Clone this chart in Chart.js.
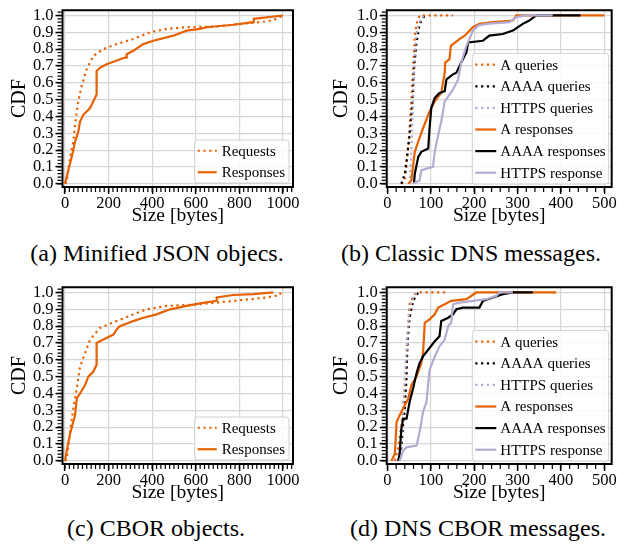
<!DOCTYPE html>
<html>
<head>
<meta charset="utf-8">
<script src="https://cdn.jsdelivr.net/npm/chart.js@4.4.1/dist/chart.umd.min.js"></script>
<style>
  body { margin: 0; background: #fff; }
  #fig { position: relative; width: 633px; height: 548px; overflow: hidden; }
  canvas { position: absolute; }
  .cap {
    position: absolute;
    font-family: 'Liberation Serif', 'DejaVu Serif', serif;
    font-size: 24px;
    white-space: nowrap;
    transform: translate(-50%, -50%);
  }
</style>
</head>
<body>
<div id="fig">
  <canvas id="chartA" width="316" height="232" style="left:0;top:0"></canvas>
  <canvas id="chartB" width="313" height="232" style="left:320px;top:0"></canvas>
  <canvas id="chartC" width="316" height="232" style="left:0;top:277px"></canvas>
  <canvas id="chartD" width="313" height="232" style="left:320px;top:277px"></canvas>
  <div class="cap" style="left:157px;top:253px">(a) Minified JSON objecs.</div>
  <div class="cap" style="left:471px;top:253px">(b) Classic DNS messages.</div>
  <div class="cap" style="left:156px;top:528px">(c) CBOR objects.</div>
  <div class="cap" style="left:478px;top:528px">(d) DNS CBOR messages.</div>
</div>
<script>
// (a) minified JSON
const jsonReqX = [0, 8, 23, 38, 46, 61, 76, 99, 130, 176, 237, 313, 390, 466, 558, 696, 772, 849, 925, 960, 1000];
const jsonReqY = [0, 0.01, 0.16, 0.25, 0.35, 0.49, 0.58, 0.68, 0.76, 0.80, 0.83, 0.86, 0.90, 0.92, 0.93, 0.935, 0.945, 0.955, 0.965, 0.975, 1.0];
const jsonResX = [0, 15, 31, 46, 61, 69, 84, 115, 130, 145, 145, 161, 191, 275, 283, 283, 313, 359, 405, 497, 558, 619, 650, 772, 864, 866, 1000];
const jsonResY = [0, 0.08, 0.16, 0.25, 0.31, 0.37, 0.41, 0.45, 0.49, 0.53, 0.67, 0.69, 0.71, 0.75, 0.75, 0.77, 0.79, 0.83, 0.85, 0.88, 0.91, 0.92, 0.93, 0.945, 0.96, 0.98, 1.0];

// (c) CBOR objects
const cborReqX = [0, 8, 23, 38, 54, 69, 92, 115, 161, 237, 313, 375, 466, 619, 772, 925, 986, 990];
const cborReqY = [0, 0.01, 0.17, 0.31, 0.43, 0.56, 0.64, 0.72, 0.79, 0.83, 0.87, 0.90, 0.92, 0.93, 0.95, 0.97, 0.985, 1.0];
const cborResX = [0, 8, 23, 46, 54, 69, 92, 107, 130, 145, 145, 176, 222, 237, 252, 313, 359, 420, 482, 558, 619, 696, 696, 772, 864, 956];
const cborResY = [0, 0.06, 0.16, 0.27, 0.37, 0.40, 0.45, 0.50, 0.53, 0.57, 0.70, 0.72, 0.75, 0.78, 0.80, 0.83, 0.85, 0.87, 0.90, 0.92, 0.935, 0.95, 0.97, 0.985, 0.99, 1.0];

// (b) classic DNS
const dnsAQryX = [32, 40, 45, 50, 55, 59, 63, 67, 74, 151];
const dnsAQryY = [0, 0.02, 0.14, 0.29, 0.49, 0.68, 0.88, 0.95, 1.0, 1.0];
const dnsAAAAQryX = [32, 40, 45, 51, 58, 61, 67, 74, 86];
const dnsAAAAQryY = [0, 0.06, 0.16, 0.29, 0.49, 0.68, 0.84, 0.95, 1.0];
const dnsHttpsQryX = [51, 55, 59, 63, 68, 78, 90];
const dnsHttpsQryY = [0, 0.19, 0.49, 0.78, 0.91, 0.99, 1.0];
const dnsARespX = [48, 55, 63, 71, 82, 97, 109, 124, 132, 133, 143, 146, 166, 178, 182, 197, 212, 243, 289, 297, 500];
const dnsARespY = [0, 0.02, 0.19, 0.25, 0.33, 0.43, 0.49, 0.54, 0.66, 0.72, 0.74, 0.82, 0.86, 0.88, 0.89, 0.93, 0.95, 0.96, 0.97, 1.0, 1.0];
const dnsAAAARespX = [61, 63, 71, 78, 94, 97, 101, 109, 120, 132, 136, 151, 159, 170, 182, 186, 220, 235, 266, 289, 312, 327, 343, 445];
const dnsAAAARespY = [0, 0.06, 0.16, 0.19, 0.21, 0.33, 0.45, 0.51, 0.54, 0.55, 0.62, 0.65, 0.66, 0.72, 0.78, 0.84, 0.85, 0.88, 0.89, 0.91, 0.95, 0.97, 1.0, 1.0];
const dnsHttpsRespX = [59, 74, 78, 90, 105, 109, 117, 124, 132, 143, 151, 163, 170, 182, 189, 197, 209, 228, 281, 297, 320, 381];
const dnsHttpsRespY = [0, 0.02, 0.08, 0.09, 0.10, 0.19, 0.29, 0.37, 0.49, 0.53, 0.56, 0.62, 0.72, 0.82, 0.86, 0.91, 0.94, 0.95, 0.96, 0.99, 1.0, 1.0];

// (d) DNS CBOR
const cbAQryX = [17, 25, 32, 40, 44, 48, 51, 63, 74, 136];
const cbAQryY = [0, 0.08, 0.21, 0.41, 0.60, 0.80, 0.93, 0.99, 1.0, 1.0];
const cbAAAAQryX = [25, 32, 36, 40, 44, 46, 51, 59, 71];
const cbAAAAQryY = [0, 0.08, 0.21, 0.31, 0.50, 0.70, 0.85, 0.95, 1.0];
const cbHttpsQryX = [28, 32, 36, 40, 45, 50, 59, 67];
const cbHttpsQryY = [0, 0.16, 0.31, 0.50, 0.70, 0.89, 0.98, 1.0];
const cbARespX = [9, 17, 21, 28, 36, 48, 55, 67, 78, 82, 86, 97, 109, 117, 132, 147, 182, 205, 389];
const cbARespY = [0, 0.04, 0.23, 0.27, 0.31, 0.37, 0.45, 0.50, 0.58, 0.64, 0.82, 0.84, 0.87, 0.91, 0.93, 0.95, 0.96, 1.0, 1.0];
const cbAAAARespX = [25, 28, 32, 36, 44, 51, 59, 67, 74, 82, 97, 109, 120, 124, 140, 151, 159, 174, 212, 220, 243, 266, 289, 335];
const cbAAAARespY = [0, 0.04, 0.19, 0.25, 0.25, 0.35, 0.43, 0.52, 0.58, 0.62, 0.67, 0.71, 0.74, 0.83, 0.85, 0.87, 0.90, 0.91, 0.91, 0.95, 0.97, 0.99, 1.0, 1.0];
const cbHttpsRespX = [28, 36, 44, 67, 74, 82, 90, 97, 109, 120, 132, 140, 147, 151, 166, 197, 228, 251, 259, 289];
const cbHttpsRespY = [0, 0.06, 0.08, 0.09, 0.17, 0.29, 0.35, 0.54, 0.62, 0.68, 0.72, 0.80, 0.82, 0.93, 0.94, 0.95, 0.96, 0.98, 1.0, 1.0];

const FONT = "'Liberation Serif', 'DejaVu Serif', serif";
const ORANGE = "#e66101";
const BLACK = "#000000";
const LAVENDER = "#b2abd2";
const DOTS = [2.2, 3.6];

Chart.defaults.font.family = FONT;
Chart.defaults.color = "#000";

const pts = (xs, ys) => xs.map((x, i) => ({ x: x, y: ys[i] }));

// frame round the plot area, like matplotlib spines
const framePlugin = {
  id: "frame",
  afterDatasetsDraw(chart) {
    const a = chart.chartArea;
    const ctx = chart.ctx;
    ctx.save();
    ctx.strokeStyle = "#000";
    ctx.lineWidth = 2;
    ctx.strokeRect(a.left, a.top, a.right - a.left, a.bottom - a.top);
    ctx.restore();
  }
};

// minor ticks, outward
const minorPlugin = {
  id: "minorTicks",
  afterDraw(chart, args, opts) {
    const a = chart.chartArea;
    const ctx = chart.ctx;
    const sx = chart.scales.x, sy = chart.scales.y;
    ctx.save();
    ctx.strokeStyle = "#000";
    ctx.lineWidth = 1.2;
    ctx.beginPath();
    for (let i = Math.ceil(sx.min / opts.x); i * opts.x <= sx.max; i++) {
      const px = sx.getPixelForValue(i * opts.x);
      ctx.moveTo(px, a.bottom + 1);
      ctx.lineTo(px, a.bottom + 1 + opts.len);
    }
    for (let i = Math.ceil(sy.min / opts.y - 1e-6); i * opts.y <= sy.max + 1e-9; i++) {
      const py = sy.getPixelForValue(i * opts.y);
      ctx.moveTo(a.left - 1, py);
      ctx.lineTo(a.left - 1 - opts.len, py);
    }
    ctx.stroke();
    ctx.restore();
  }
};

// legend box inside the lower right corner
const legendPlugin = {
  id: "cdfLegend",
  afterDraw(chart, args, opts) {
    const ctx = chart.ctx;
    const a = chart.chartArea;
    const items = chart.data.datasets;
    ctx.save();
    ctx.font = opts.size + "px " + FONT;
    const textW = Math.max(...items.map(d => ctx.measureText(d.label).width));
    const w = opts.padL + opts.sample + opts.gap + textW + opts.padR;
    const h = items.length * opts.row + opts.padV * 2;
    const x = a.right - opts.inset - w;
    const y = a.bottom - opts.inset - h;
    ctx.beginPath();
    ctx.roundRect(x, y, w, h, 3);
    ctx.fillStyle = "rgba(255,255,255,0.85)";
    ctx.fill();
    ctx.strokeStyle = "#d0d0d0";
    ctx.lineWidth = 1;
    ctx.stroke();
    items.forEach((d, i) => {
      const cy = y + opts.padV + opts.row * (i + 0.5);
      ctx.beginPath();
      ctx.setLineDash(d.borderDash || []);
      ctx.strokeStyle = d.borderColor;
      ctx.lineWidth = d.borderWidth;
      ctx.moveTo(x + opts.padL, cy);
      ctx.lineTo(x + opts.padL + opts.sample, cy);
      ctx.stroke();
      ctx.setLineDash([]);
      ctx.fillStyle = "#000";
      ctx.textBaseline = "middle";
      ctx.fillText(d.label, x + opts.padL + opts.sample + opts.gap, cy + 1);
    });
    ctx.restore();
  }
};

function series(label, xs, ys, color, dotted) {
  return {
    label: label,
    data: pts(xs, ys),
    borderColor: color,
    backgroundColor: color,
    borderWidth: 2.2,
    borderDash: dotted ? DOTS : [],
    pointRadius: 0,
    tension: 0,
    fill: false
  };
}

function makePanel(id, cfg) {
  const canvas = document.getElementById(id);
  const W = canvas.width, H = canvas.height;
  const n = cfg.datasets.length;
  // later series drawn on top, like matplotlib
  cfg.datasets.forEach((d, i) => { d.order = n - i; });
  return new Chart(canvas, {
    type: "line",
    data: { datasets: cfg.datasets },
    options: {
      responsive: false,
      animation: false,
      events: [],
      layout: { padding: { top: 8, right: W - cfg.right, bottom: 0, left: 0 } },
      plugins: {
        legend: { display: false },
        tooltip: { enabled: false },
        minorTicks: { x: 20, y: 0.02, len: 4 },
        cdfLegend: cfg.legend
      },
      scales: {
        x: {
          type: "linear",
          min: cfg.xMin,
          max: cfg.xMax,
          afterFit: s => { s.height = H - 187; },
          ticks: {
            stepSize: cfg.xStep,
            includeBounds: false,
            autoSkip: false,
            maxRotation: 0,
            padding: 1,
            color: "#000",
            font: { size: 16.5, lineHeight: 1 },
            callback: v => String(v)
          },
          grid: { color: "#d6d6d6", lineWidth: 1.2, tickColor: "#000", tickWidth: 1.5, tickLength: 7 },
          border: { display: false },
          title: { display: true, text: "Size [bytes]", color: "#000", font: { size: 19.5 }, padding: { top: 0, bottom: 4 } }
        },
        y: {
          type: "linear",
          min: -0.019,
          max: 1.031,
          afterFit: s => { s.width = cfg.left; },
          ticks: {
            stepSize: 0.1,
            includeBounds: false,
            autoSkip: false,
            padding: 2,
            color: "#000",
            font: { size: 16.5, lineHeight: 1 },
            callback: v => v.toFixed(1)
          },
          grid: { color: "#d6d6d6", lineWidth: 1.2, tickColor: "#000", tickWidth: 1.5, tickLength: 7 },
          border: { display: false },
          title: { display: true, text: "CDF", color: "#000", font: { size: 20 }, padding: { top: cfg.titlePad, bottom: 0 } }
        }
      }
    },
    plugins: [framePlugin, minorPlugin, legendPlugin]
  });
}

const smallLegend = { size: 15, row: 21.5, padV: 0, padL: 3, sample: 19, gap: 5, padR: 4, inset: 4 };
const bigLegend = { size: 15, row: 21.6, padV: 0.5, padL: 3, sample: 21, gap: 4, padR: 3, inset: 3 };

makePanel("chartA", {
  left: 62.5, right: 293, xMin: -11.5, xMax: 1046, xStep: 200, titlePad: 8, legend: smallLegend,
  datasets: [
    series("Requests", jsonReqX, jsonReqY, ORANGE, true),
    series("Responses", jsonResX, jsonResY, ORANGE, false)
  ]
});

makePanel("chartC", {
  left: 62.5, right: 293, xMin: -11.5, xMax: 1046, xStep: 200, titlePad: 8, legend: smallLegend,
  datasets: [
    series("Requests", cborReqX, cborReqY, ORANGE, true),
    series("Responses", cborResX, cborResY, ORANGE, false)
  ]
});

makePanel("chartB", {
  left: 66.7, right: 291.7, xMin: -1.8, xMax: 517, xStep: 100, titlePad: 10, legend: bigLegend,
  datasets: [
    series("A queries", dnsAQryX, dnsAQryY, ORANGE, true),
    series("AAAA queries", dnsAAAAQryX, dnsAAAAQryY, BLACK, true),
    series("HTTPS queries", dnsHttpsQryX, dnsHttpsQryY, LAVENDER, true),
    series("A responses", dnsARespX, dnsARespY, ORANGE, false),
    series("AAAA responses", dnsAAAARespX, dnsAAAARespY, BLACK, false),
    series("HTTPS response", dnsHttpsRespX, dnsHttpsRespY, LAVENDER, false)
  ]
});

makePanel("chartD", {
  left: 66.7, right: 291.7, xMin: -1.8, xMax: 517, xStep: 100, titlePad: 10, legend: bigLegend,
  datasets: [
    series("A queries", cbAQryX, cbAQryY, ORANGE, true),
    series("AAAA queries", cbAAAAQryX, cbAAAAQryY, BLACK, true),
    series("HTTPS queries", cbHttpsQryX, cbHttpsQryY, LAVENDER, true),
    series("A responses", cbARespX, cbARespY, ORANGE, false),
    series("AAAA responses", cbAAAARespX, cbAAAARespY, BLACK, false),
    series("HTTPS response", cbHttpsRespX, cbHttpsRespY, LAVENDER, false)
  ]
});
</script>
</body>
</html>
